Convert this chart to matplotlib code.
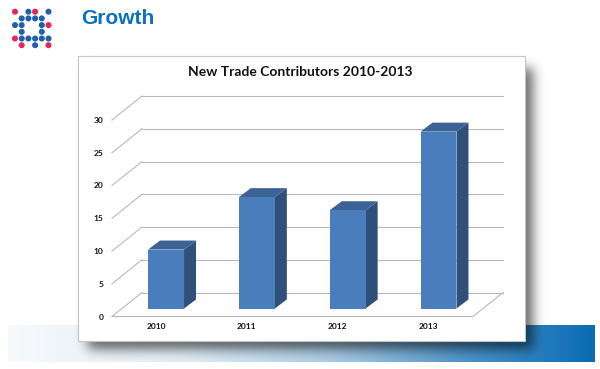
import numpy as np
import matplotlib
matplotlib.use('Agg')
from matplotlib import pyplot as plt
from matplotlib.patches import Rectangle, Polygon, Circle
from matplotlib.colors import LinearSegmentedColormap

# Chart data
years  = ['2010', '2011', '2012', '2013']
values = [9, 17, 15, 27]
yticks = [0, 5, 10, 15, 20, 25, 30]

title  = 'New Trade Contributors 2010-2013'
header = 'Growth'

# Logo dot layout (r = red, b = blue)
logo_rows = ['r.br.b', '.bbbb.', 'bb..br', '.b..b.', 'rbbbbb', '.r.b.r']

# Colours
c_front, c_top, c_side = '#4a7dbb', '#3b6395', '#2f5179'
c_grid = '#b8b8b8'

W, H = 600, 369
fig = plt.figure(figsize=(W / 100, H / 100), dpi=100)

# Background layer in pixel coordinates
bg = fig.add_axes([0, 0, 1, 1])
bg.set_xlim(0, W)
bg.set_ylim(H, 0)
bg.axis('off')

# Blue gradient band at the bottom
band = LinearSegmentedColormap.from_list('band', [
    (0.00, '#f7f9fc'), (0.30, '#e3eef7'), (0.55, '#abcde6'),
    (0.78, '#4d95cb'), (1.00, '#0a6cb3')])
grad = np.linspace(0, 1, 256)[None, :]
bg.imshow(grad, cmap=band, extent=(8, 595, 362, 325), aspect='auto', zorder=1)

# Soft drop shadow behind the chart box
box = (78, 56, 525, 341)
yy, xx = np.mgrid[0:H, 0:W]
mask = ((xx >= box[0] + 10) & (xx <= box[2] + 7) &
        (yy >= box[1] + 12) & (yy <= box[3] + 7)).astype(float)
k = np.exp(-0.5 * (np.arange(-18, 19) / 6.0) ** 2)
k /= k.sum()
blur = np.apply_along_axis(lambda r: np.convolve(r, k, mode='same'), 1, mask)
blur = np.apply_along_axis(lambda c: np.convolve(c, k, mode='same'), 0, blur)
shadow = np.zeros((H, W, 4))
shadow[..., 3] = 0.6 * blur
bg.imshow(shadow, extent=(0, W, H, 0), aspect='auto', zorder=2)

bg.add_patch(Rectangle((box[0], box[1]), box[2] - box[0], box[3] - box[1],
                       facecolor='white', edgecolor='#c4c4c4', lw=0.8, zorder=3))

# Logo
for r, row in enumerate(logo_rows):
    for c, ch in enumerate(row):
        if ch == '.':
            continue
        col = '#e8245c' if ch == 'r' else '#1f5fad'
        bg.add_patch(Circle((15 + 6.7 * c, 11.7 + 6.7 * r), 2.3, color=col, zorder=4))

fig.text(81 / W, 1 - 19 / H, header, family='Liberation Sans', weight='bold',
         fontsize=15, color='#0a70c0', va='center', ha='left')
fig.text(300 / W, 1 - 72 / H, title, family='Lato', weight='bold',
         fontsize=10, color='#111111', va='center', ha='center')

# Chart axes: front plane of the floor
x0, x1 = 112, 473
y0, y1 = 316.5, 120
ax = fig.add_axes([x0 / W, 1 - y0 / H, (x1 - x0) / W, (y0 - y1) / H])
ax.patch.set_alpha(0)
xlim = (-0.485, 3.49)
ax.set_xlim(xlim)
ax.set_ylim(0, 30)
for s in ax.spines.values():
    s.set_visible(False)

# Pixel -> data conversion for the depth offsets
p0 = ax.transData.transform((0, 0))
p1 = ax.transData.transform((1, 1))
ppx, ppy = p1[0] - p0[0], p1[1] - p0[1]
def depth(dx, dy):
    return dx / ppx, dy / ppy

wx, wy = depth(30, 24)   # back wall
fx, fy = depth(10, 8)    # bar front face
bx, by = depth(22, 17)   # bar back face

# Walls and floor
for v in yticks:
    ax.plot([xlim[0] + wx, xlim[1] + wx], [v + wy, v + wy], color=c_grid, lw=0.8, clip_on=False)
    ax.plot([xlim[0], xlim[0] + wx], [v, v + wy], color=c_grid, lw=0.8, clip_on=False)
ax.plot([xlim[0], xlim[1], xlim[1] + wx], [0, 0, wy], color=c_grid, lw=0.8, clip_on=False)

# Bars
xs = np.arange(len(years))
bw = 0.396
ax.bar(xs + fx, values, width=bw, bottom=fy, color=c_front, zorder=5, clip_on=False)
for x, v in zip(xs, values):
    xl, xr = x - bw / 2, x + bw / 2
    ax.add_patch(Polygon([(xr + fx, fy), (xr + bx, by), (xr + bx, v + by), (xr + fx, v + fy)],
                         closed=True, facecolor=c_side, edgecolor='none', zorder=4, clip_on=False))
    ax.add_patch(Polygon([(xl + fx, v + fy), (xr + fx, v + fy), (xr + bx, v + by), (xl + bx, v + by)],
                         closed=True, facecolor=c_top, edgecolor='none', zorder=4, clip_on=False))

ax.set_xticks(xs)
ax.set_xticklabels(years)
ax.set_yticks(yticks)
ax.tick_params(length=0, labelsize=6)
ax.tick_params(axis='y', pad=6)
ax.tick_params(axis='x', pad=5)
for lbl in ax.get_xticklabels() + ax.get_yticklabels():
    lbl.set_family('Lato')
    lbl.set_weight('bold')
    lbl.set_color('#111111')

fig.savefig('out.png', dpi=100)
